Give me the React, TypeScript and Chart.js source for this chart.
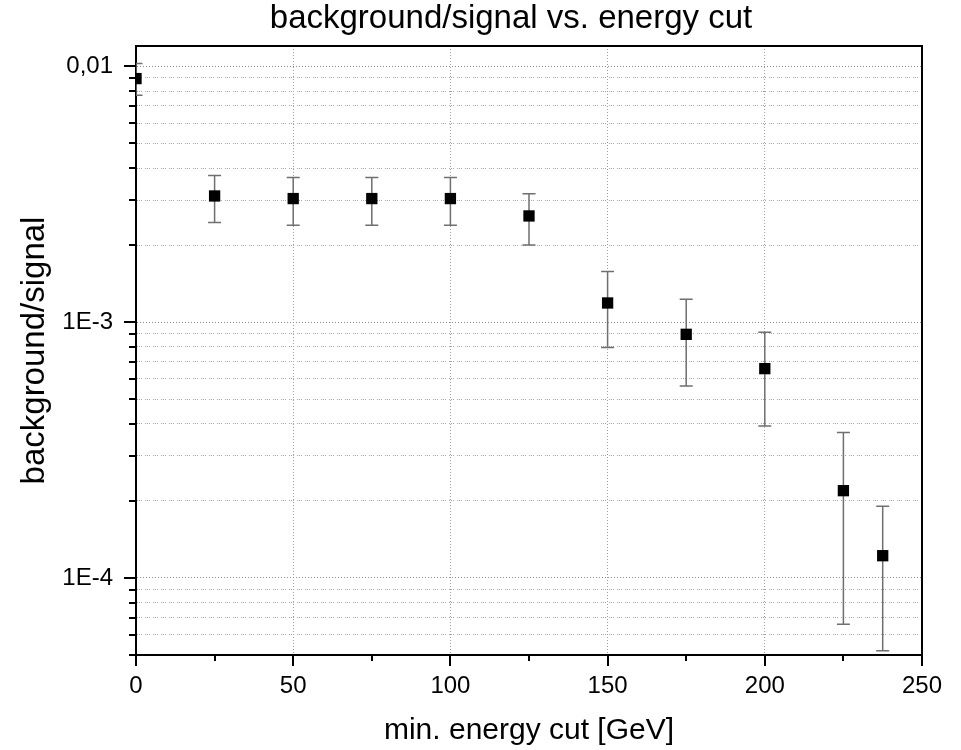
import React, { useEffect, useRef } from "react";
import { Chart, registerables } from "chart.js";

Chart.register(...registerables);

// ---- Text ----
const chartTitle = "background/signal vs. energy cut";
const xAxisTitle = "min. energy cut [GeV]";
const yAxisTitle = "background/signal";

// ---- Data ----
const energyCuts = [0, 25, 50, 75, 100, 125, 150, 175, 200, 225, 237.5];
const ratios = [0.00895, 0.003112, 0.00304, 0.00304, 0.00304, 0.0026, 0.001188, 0.000896, 0.000658, 0.0002194, 0.0001222];
const ratioUpper = [0.01025, 0.003739, 0.003672, 0.003672, 0.003672, 0.003178, 0.001576, 0.001228, 0.000912, 0.00037, 0.0001905];
const ratioLower = [0.0077, 0.002449, 0.00239, 0.00239, 0.00239, 0.002001, 0.000795, 0.000563, 0.000393, 0.000066, 0.00005196];

// ---- Axes ----
const xMin = 0;
const xMax = 250;
const xTickValues = [0, 25, 50, 75, 100, 125, 150, 175, 200, 225, 250];
const xLabeledTicks = [0, 50, 100, 150, 200, 250];
const xGridValues = [50, 100, 150, 200];

const yMin = 5e-5;
const yMax = 0.012;
const yTickValues = [
  5e-5, 6e-5, 7e-5, 8e-5, 9e-5,
  1e-4, 2e-4, 3e-4, 4e-4, 5e-4, 6e-4, 7e-4, 8e-4, 9e-4,
  1e-3, 2e-3, 3e-3, 4e-3, 5e-3, 6e-3, 7e-3, 8e-3, 9e-3,
  1e-2,
];
const yMajorTicks = [1e-4, 1e-3, 1e-2];
const yMajorLabels = ["1E-4", "1E-3", "0,01"];

const FONT = '"Liberation Sans", Arial, Helvetica, sans-serif';

function majorIndex(v: number): number {
  for (let i = 0; i < yMajorTicks.length; i++) {
    if (Math.abs(v - yMajorTicks[i]) / yMajorTicks[i] < 1e-6) return i;
  }
  return -1;
}

const errorBarPlugin = {
  id: "errorBars",
  beforeDatasetsDraw(chart: any) {
    const { ctx, chartArea: a, scales } = chart;
    const x = scales.x;
    const y = scales.y;
    ctx.save();
    ctx.beginPath();
    ctx.rect(a.left, a.top, a.right - a.left, a.bottom - a.top);
    ctx.clip();
    ctx.strokeStyle = "#6f6f6f";
    ctx.lineWidth = 1.5;
    energyCuts.forEach((e, i) => {
      const px = x.getPixelForValue(e);
      const top = y.getPixelForValue(ratioUpper[i]);
      const bot = y.getPixelForValue(ratioLower[i]);
      ctx.beginPath();
      ctx.moveTo(px, top);
      ctx.lineTo(px, bot);
      ctx.moveTo(px - 6.5, top);
      ctx.lineTo(px + 6.5, top);
      ctx.moveTo(px - 6.5, bot);
      ctx.lineTo(px + 6.5, bot);
      ctx.stroke();
    });
    ctx.restore();
  },
};

const framePlugin = {
  id: "frameAndTicks",
  afterDraw(chart: any) {
    const { ctx, chartArea: a, scales } = chart;
    const x = scales.x;
    const y = scales.y;
    ctx.save();
    ctx.strokeStyle = "#000";
    ctx.lineWidth = 2;
    ctx.beginPath();
    ctx.moveTo(a.left, a.top);
    ctx.lineTo(a.right, a.top);
    ctx.lineTo(a.right, a.bottom);
    ctx.stroke();

    ctx.beginPath();
    y.ticks.forEach((t: any) => {
      const py = Math.round(y.getPixelForValue(t.value));
      const len = majorIndex(t.value) >= 0 ? 12 : 7;
      ctx.moveTo(a.left - len, py);
      ctx.lineTo(a.left, py);
    });
    x.ticks.forEach((t: any) => {
      const px = Math.round(x.getPixelForValue(t.value));
      const len = xLabeledTicks.includes(t.value) ? 11 : 6;
      ctx.moveTo(px, a.bottom);
      ctx.lineTo(px, a.bottom + len);
    });
    ctx.stroke();

    ctx.fillStyle = "#000";
    ctx.font = `33px ${FONT}`;
    ctx.textAlign = "center";
    ctx.textBaseline = "alphabetic";
    ctx.fillText(chartTitle, 511, 28);
    ctx.restore();
  },
};

export default function App() {
  const ref = useRef<HTMLCanvasElement>(null);

  useEffect(() => {
    const canvas = ref.current;
    if (!canvas) return;
    const chart = new Chart(canvas, {
      type: "scatter",
      data: {
        datasets: [
          {
            data: energyCuts.map((e, i) => ({ x: e, y: ratios[i] })),
            pointStyle: "rect",
            pointRadius: 8,
            pointHoverRadius: 8,
            pointBackgroundColor: "#000",
            pointBorderWidth: 0,
            showLine: false,
            clip: 0,
          } as any,
        ],
      },
      options: {
        animation: false,
        responsive: false,
        devicePixelRatio: 1,
        events: [],
        layout: { padding: { top: 46, right: 39, left: 0, bottom: 0 } },
        plugins: {
          legend: { display: false },
          tooltip: { enabled: false },
          title: { display: false },
        },
        scales: {
          x: {
            type: "linear",
            min: xMin,
            max: xMax,
            afterBuildTicks: (scale: any) => {
              scale.ticks = xTickValues.map((v) => ({ value: v }));
            },
            afterFit: (scale: any) => {
              scale.height = 95;
            },
            ticks: {
              autoSkip: false,
              maxRotation: 0,
              padding: 17,
              color: "#000",
              font: { family: FONT, size: 24 },
              callback: (v: any) => (xLabeledTicks.includes(Number(v)) ? String(v) : ""),
            },
            grid: {
              drawTicks: false,
              lineWidth: 1,
              color: (ctx: any) =>
                ctx.tick && xGridValues.includes(ctx.tick.value) ? "#a0a0a0" : "rgba(0,0,0,0)",
            },
            border: {
              display: true,
              color: "#000",
              width: 2,
              dash: [1, 2],
            },
            title: {
              display: true,
              text: xAxisTitle,
              color: "#000",
              font: { family: FONT, size: 30 },
              padding: { top: 0, bottom: 1 },
            },
          },
          y: {
            type: "logarithmic",
            min: yMin,
            max: yMax,
            afterBuildTicks: (scale: any) => {
              scale.ticks = yTickValues.map((v) => ({ value: v }));
            },
            afterFit: (scale: any) => {
              scale.width = 136;
            },
            ticks: {
              autoSkip: false,
              padding: 23,
              color: "#000",
              font: { family: FONT, size: 24 },
              callback: (v: any) => {
                const idx = majorIndex(Number(v));
                return idx >= 0 ? yMajorLabels[idx] : "";
              },
            },
            grid: {
              drawTicks: false,
              lineWidth: 1,
              color: (ctx: any) =>
                ctx.tick && majorIndex(ctx.tick.value) >= 0 ? "#8c8c8c" : "#a8a8a8",
            },
            border: {
              display: true,
              color: "#000",
              width: 2,
              dash: (ctx: any) =>
                ctx.tick && majorIndex(ctx.tick.value) >= 0 ? [1, 2] : [1, 1, 1, 1, 1, 3],
            },
            title: {
              display: true,
              text: yAxisTitle,
              color: "#000",
              font: { family: FONT, size: 33 },
              padding: { top: 15, bottom: 0 },
            },
          },
        },
      } as any,
      plugins: [errorBarPlugin, framePlugin],
    });
    return () => chart.destroy();
  }, []);

  return (
    <div style={{ position: "absolute", left: 0, top: 0, width: 961, height: 750, background: "#fff" }}>
      <canvas ref={ref} width={961} height={750} style={{ display: "block", width: 961, height: 750 }} />
    </div>
  );
}
